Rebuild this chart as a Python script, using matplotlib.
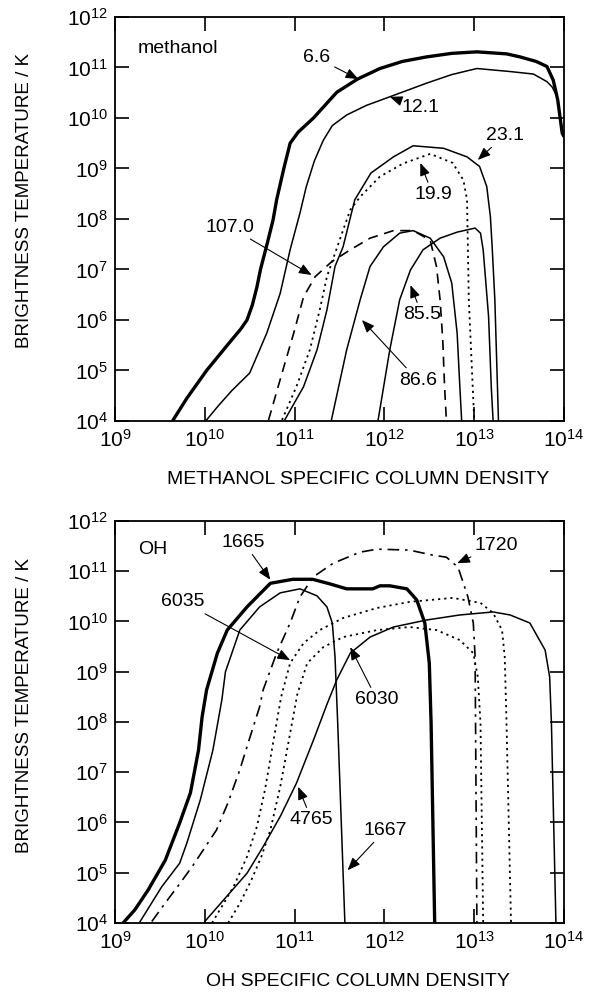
import numpy as np
import matplotlib
matplotlib.use("Agg")
import matplotlib.pyplot as plt
from matplotlib.ticker import NullLocator

plt.rcParams['font.family'] = ['Liberation Sans', 'DejaVu Sans']
plt.rcParams['mathtext.fontset'] = 'custom'
plt.rcParams['mathtext.rm'] = 'Liberation Sans'
plt.rcParams['mathtext.it'] = 'Liberation Sans'

# ---------------- data (log10 column density, log10 brightness temperature) ----------------
# methanol panel
m66_logN = [9.64, 9.80, 10.02, 10.25, 10.40, 10.47, 10.53, 10.58, 10.62, 10.70, 10.76, 10.80, 10.88,
            10.95, 11.04, 11.21, 11.47, 11.70, 11.95, 12.20, 12.47, 12.75, 13.03, 13.36, 13.51, 13.69,
            13.81, 13.88, 13.93, 13.98, 14.0]
m66_logT = [4.0, 4.45, 5.0, 5.5, 5.82, 6.0, 6.3, 6.65, 7.0, 7.55, 7.98, 8.38, 9.0,
            9.5, 9.72, 10.0, 10.51, 10.77, 10.98, 11.12, 11.21, 11.28, 11.31, 11.27, 11.21, 11.12,
            11.02, 10.75, 10.36, 9.70, 9.63]

m121_logN = [10.01, 10.15, 10.30, 10.50, 10.69, 10.84, 10.95, 11.06, 11.13, 11.22, 11.32, 11.42, 11.58,
             11.80, 12.06, 12.47, 12.75, 13.03, 13.40, 13.66, 13.81, 13.87, 13.90]
m121_logT = [4.0, 4.3, 4.6, 4.95, 5.74, 6.53, 7.39, 8.12, 8.64, 9.15, 9.56, 9.85, 10.06,
             10.25, 10.42, 10.69, 10.86, 10.98, 10.92, 10.87, 10.72, 10.61, 10.50]

m231_logN = [10.89, 11.10, 11.25, 11.36, 11.45, 11.54, 11.67, 11.85, 12.10, 12.32, 12.66, 12.92, 13.06,
             13.14, 13.18, 13.20, 13.23, 13.27]
m231_logT = [4.02, 4.68, 5.41, 6.20, 7.06, 7.45, 8.38, 8.91, 9.23, 9.45, 9.40, 9.23, 9.04,
             8.64, 8.05, 7.45, 6.40, 4.02]

m199_logN = [10.86, 11.02, 11.17, 11.28, 11.36, 11.45, 11.54, 11.62, 11.73, 11.95, 12.21, 12.51, 12.76,
             12.88, 12.92, 12.94, 13.00]
m199_logT = [4.02, 4.68, 5.41, 6.20, 6.86, 7.32, 7.78, 8.18, 8.44, 8.84, 9.10, 9.29, 9.11,
             8.77, 8.38, 6.40, 4.02]

m1070_logN = [10.71, 10.87, 10.99, 11.10, 11.23, 11.41, 11.62, 11.84, 12.10, 12.32, 12.51, 12.58, 12.62,
              12.65, 12.67, 12.69]
m1070_logT = [4.02, 5.01, 5.74, 6.46, 6.86, 7.15, 7.39, 7.62, 7.77, 7.77, 7.58, 7.06, 6.40,
              5.60, 4.68, 4.02]

m866_logN = [11.41, 11.58, 11.73, 11.84, 11.99, 12.17, 12.32, 12.51, 12.66, 12.75, 12.81, 12.84, 12.86]
m866_logT = [4.02, 5.41, 6.40, 7.06, 7.45, 7.72, 7.77, 7.62, 7.25, 6.73, 5.74, 4.68, 4.02]

m855_logN = [11.93, 12.06, 12.17, 12.29, 12.43, 12.62, 12.81, 13.01, 13.07, 13.10, 13.16, 13.19, 13.21]
m855_logT = [4.02, 5.41, 6.40, 6.99, 7.39, 7.62, 7.74, 7.82, 7.72, 7.39, 6.07, 4.68, 4.02]

# OH panel
o1665_logN = [9.09, 9.22, 9.37, 9.56, 9.72, 9.84, 9.93, 9.97, 10.02, 10.14, 10.25, 10.47, 10.73,
              10.98, 11.20, 11.39, 11.58, 11.87, 11.95, 12.06, 12.25, 12.36, 12.45, 12.50, 12.52, 12.56]
o1665_logT = [4.0, 4.26, 4.66, 5.25, 5.99, 6.59, 7.44, 8.1, 8.64, 9.37, 9.83, 10.29, 10.76,
              10.84, 10.84, 10.75, 10.65, 10.65, 10.71, 10.71, 10.65, 10.43, 9.97, 9.17, 7.98, 4.0]

o1667_logN = [9.28, 9.52, 9.72, 9.80, 9.95, 10.09, 10.19, 10.23, 10.39, 10.61, 10.84, 11.06, 11.25,
              11.36, 11.42, 11.45, 11.48, 11.56]
o1667_logT = [4.03, 4.72, 5.19, 5.59, 6.45, 7.44, 8.44, 9.0, 9.83, 10.29, 10.57, 10.65, 10.51,
              10.29, 9.97, 9.30, 7.98, 4.0]

o1720_logN = [9.41, 9.56, 9.72, 9.87, 10.00, 10.13, 10.26, 10.39, 10.50, 10.61, 10.65, 10.80, 10.95,
              11.06, 11.21, 11.43, 11.73, 11.92, 12.28, 12.54, 12.69, 12.82, 12.93, 12.99, 13.01, 13.03]
o1720_logT = [4.03, 4.40, 4.78, 5.15, 5.50, 5.85, 6.40, 7.05, 7.68, 8.30, 8.64, 9.37, 9.97,
              10.49, 10.89, 11.16, 11.38, 11.44, 11.42, 11.32, 11.28, 11.08, 10.49, 9.97, 9.30, 4.0]

o6035_logN = [10.08, 10.21, 10.32, 10.47, 10.58, 10.67, 10.76, 10.85, 10.95, 11.10, 11.28, 11.54, 11.92,
              12.28, 12.76, 13.07, 13.21, 13.31, 13.34, 13.36, 13.41]
o6035_logT = [4.0, 4.39, 4.72, 5.32, 5.92, 6.65, 7.58, 8.5, 9.17, 9.57, 9.83, 10.07, 10.27,
              10.39, 10.47, 10.37, 10.17, 9.83, 9.30, 7.98, 4.0]

o6030_logN = [10.26, 10.39, 10.52, 10.63, 10.73, 10.84, 10.93, 11.03, 11.14, 11.32, 11.54, 11.92, 12.28,
              12.58, 12.84, 12.99, 13.04, 13.07, 13.10]
o6030_logT = [4.0, 4.39, 4.86, 5.32, 5.85, 6.71, 7.58, 8.55, 9.17, 9.49, 9.69, 9.83, 9.89,
              9.83, 9.63, 9.37, 8.9, 7.98, 4.0]

o4765_logN = [10.0, 10.21, 10.47, 10.65, 10.84, 11.02, 11.21, 11.36, 11.47, 11.62, 11.84, 12.10, 12.47,
              12.84, 13.21, 13.40, 13.62, 13.79, 13.84, 13.86, 13.91]
o4765_logT = [4.03, 4.46, 4.99, 5.52, 6.12, 6.78, 7.64, 8.35, 8.84, 9.37, 9.69, 9.89, 10.03,
              10.13, 10.19, 10.13, 9.97, 9.43, 8.9, 7.98, 4.0]

x_ticks = [1e9, 1e10, 1e11, 1e12, 1e13, 1e14]
y_ticks = [1e4, 1e5, 1e6, 1e7, 1e8, 1e9, 1e10, 1e11, 1e12]

# ---------------- styles ----------------
THICK = dict(color='black', lw=2.4, solid_joinstyle='round', solid_capstyle='butt')
THIN = dict(color='black', lw=1.1, solid_joinstyle='round')
DASH = dict(color='black', lw=1.2, ls=(0, (6, 4)))
DOT = dict(color='black', lw=1.3, ls=(0, (1.2, 2.2)))
DASHDOT = dict(color='black', lw=1.2, ls=(0, (7, 3.5, 1.5, 3.5)))

def P(ax, ln, lt, **kw):
    ax.plot(10 ** np.asarray(ln), 10 ** np.asarray(lt), clip_on=True, **kw)

def style_axes(ax):
    ax.set_xscale('log')
    ax.set_yscale('log')
    ax.set_xlim(1e9, 1e14)
    ax.set_ylim(1e4, 1e12)
    ax.set_xticks(x_ticks)
    ax.set_yticks(y_ticks)
    ax.xaxis.set_minor_locator(NullLocator())
    ax.yaxis.set_minor_locator(NullLocator())
    ax.tick_params(which='major', direction='in', length=10, width=1.2,
                   top=True, right=True, labelsize=15)
    ax.tick_params(axis='x', pad=6)
    ax.tick_params(axis='y', pad=5)
    for s in ax.spines.values():
        s.set_linewidth(1.3)

def ann(ax, text, xy_log, xytext_log):
    ax.annotate(text, xy=(10 ** xy_log[0], 10 ** xy_log[1]),
                xytext=(10 ** xytext_log[0], 10 ** xytext_log[1]),
                ha='center', va='center', fontsize=14,
                arrowprops=dict(arrowstyle='-|>,head_length=0.55,head_width=0.22',
                                lw=0.8, color='black',
                                mutation_scale=14, shrinkA=1, shrinkB=0))

fig = plt.figure(figsize=(5.92, 9.96), dpi=100)
ax1 = fig.add_axes([115 / 592, 1 - 421 / 996, 449 / 592, 404 / 996])
ax2 = fig.add_axes([115 / 592, 1 - 923 / 996, 449 / 592, 402 / 996])

# ---- top: methanol ----
style_axes(ax1)
P(ax1, m66_logN, m66_logT, **THICK)
P(ax1, m121_logN, m121_logT, **THIN)
P(ax1, m231_logN, m231_logT, **THIN)
P(ax1, m199_logN, m199_logT, **DOT)
P(ax1, m1070_logN, m1070_logT, **DASH)
P(ax1, m866_logN, m866_logT, **THIN)
P(ax1, m855_logN, m855_logT, **THIN)

ann(ax1, '6.6', (11.71, 10.77), (11.25, 11.19))
ann(ax1, '12.1', (12.06, 10.42), (12.40, 10.20))
ann(ax1, '23.1', (13.04, 9.17), (13.34, 9.66))
ann(ax1, '19.9', (12.40, 9.11), (12.54, 8.48))
ann(ax1, '107.0', (11.19, 6.89), (10.28, 7.84))
ann(ax1, '85.5', (12.29, 6.69), (12.42, 6.10))
ann(ax1, '86.6', (11.75, 6.0), (12.37, 4.81))
ax1.text(0.051, 0.923, 'methanol', transform=ax1.transAxes, fontsize=14, ha='left', va='center')

ax1.set_xlabel('METHANOL SPECIFIC COLUMN DENSITY', fontsize=14)
ax1.set_ylabel('BRIGHTNESS TEMPERATURE / K', fontsize=13.5)
ax1.xaxis.set_label_coords(0.541, -0.125)
ax1.yaxis.set_label_coords(-0.183, 0.547)

# ---- bottom: OH ----
style_axes(ax2)
P(ax2, o1665_logN, o1665_logT, **THICK)
P(ax2, o1667_logN, o1667_logT, **THIN)
P(ax2, o1720_logN, o1720_logT, **DASHDOT)
P(ax2, o6035_logN, o6035_logT, **DOT)
P(ax2, o6030_logN, o6030_logT, **DOT)
P(ax2, o4765_logN, o4765_logT, **THIN)

ann(ax2, '1665', (10.73, 10.83), (10.43, 11.58))
ann(ax2, '1720', (12.81, 11.16), (13.25, 11.52))
ann(ax2, '6035', (10.95, 9.23), (9.76, 10.39))
ann(ax2, '6030', (11.62, 9.49), (11.92, 8.44))
ann(ax2, '4765', (11.04, 6.71), (11.19, 6.05))
ann(ax2, '1667', (11.59, 5.05), (12.01, 5.85))
ax2.text(0.051, 0.928, 'OH', transform=ax2.transAxes, fontsize=14, ha='left', va='center')

ax2.set_xlabel('OH SPECIFIC COLUMN DENSITY', fontsize=14)
ax2.set_ylabel('BRIGHTNESS TEMPERATURE / K', fontsize=13.5)
ax2.xaxis.set_label_coords(0.541, -0.125)
ax2.yaxis.set_label_coords(-0.183, 0.542)

fig.savefig('out.png', dpi=100, facecolor='white')
